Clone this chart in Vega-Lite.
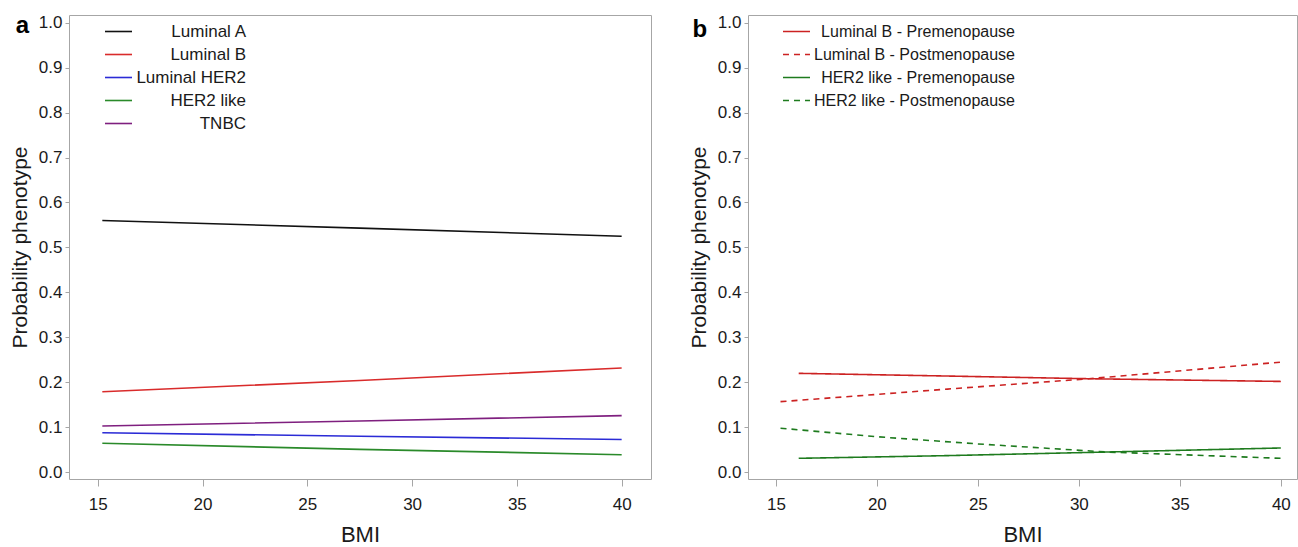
{
  "$schema": "https://vega.github.io/schema/vega-lite/v6.json",
  "background": "white",
  "padding": {"left": 8, "top": 13, "right": 0, "bottom": 0},
  "autosize": {"type": "pad"},
  "spacing": 97,
  "bounds": "flush",
  "resolve": {
    "scale": {"color": "independent", "strokeDash": "independent", "x": "independent", "y": "independent"},
    "legend": {"color": "independent", "strokeDash": "independent"}
  },
  "config": {
    "view": {"stroke": "#a6a6a6", "strokeWidth": 1},
    "axis": {
      "grid": false,
      "domain": false,
      "tickColor": "#a6a6a6",
      "labelFont": "Liberation Sans Narrow, Arial Narrow, Liberation Sans, sans-serif",
      "labelFontSize": 17,
      "labelColor": "#1a1a1a",
      "titleFontWeight": "normal",
      "titleColor": "#1a1a1a"
    },
    "axisX": {"tickSize": 7, "labelPadding": 10, "titleFont": "Liberation Sans Narrow, Arial Narrow, Liberation Sans, sans-serif", "titleFontSize": 22, "titlePadding": 12},
    "axisY": {"tickSize": 4, "labelPadding": 3, "titleFont": "Liberation Sans, Arial, sans-serif", "titleFontSize": 21, "titlePadding": 8},
    "legend": {
      "orient": "none",
      "title": null,
      "padding": 0,
      "symbolType": "stroke",
      "symbolStrokeWidth": 1.6,
      "labelAlign": "right",
      "labelFont": "Liberation Sans Narrow, Arial Narrow, Liberation Sans, sans-serif",
      "labelFontSize": 17,
      "labelColor": "#1a1a1a",
      "labelLimit": 400,
      "rowPadding": -3.5
    }
  },
  "hconcat": [
    {
      "width": 582,
      "height": 464,
      "layer": [
        {
          "data": {"values": [
            {"series": "Luminal A", "bmi": 15.22, "p": 0.560},
            {"series": "Luminal A", "bmi": 27.5, "p": 0.543},
            {"series": "Luminal A", "bmi": 40, "p": 0.525},
            {"series": "Luminal B", "bmi": 15.22, "p": 0.179},
            {"series": "Luminal B", "bmi": 27.5, "p": 0.204},
            {"series": "Luminal B", "bmi": 40, "p": 0.232},
            {"series": "Luminal HER2", "bmi": 15.22, "p": 0.088},
            {"series": "Luminal HER2", "bmi": 27.5, "p": 0.080},
            {"series": "Luminal HER2", "bmi": 40, "p": 0.073},
            {"series": "HER2 like", "bmi": 15.22, "p": 0.0645},
            {"series": "HER2 like", "bmi": 27.5, "p": 0.051},
            {"series": "HER2 like", "bmi": 40, "p": 0.039},
            {"series": "TNBC", "bmi": 15.22, "p": 0.103},
            {"series": "TNBC", "bmi": 27.5, "p": 0.114},
            {"series": "TNBC", "bmi": 40, "p": 0.126}
          ]},
          "mark": {"type": "line", "strokeWidth": 1.6},
          "encoding": {
            "x": {"field": "bmi", "type": "quantitative", "scale": {"domain": [13.63, 41.4], "nice": false, "zero": false}, "axis": {"values": [15, 20, 25, 30, 35, 40], "title": "BMI"}},
            "y": {"field": "p", "type": "quantitative", "scale": {"domain": [-0.015, 1.017], "nice": false, "zero": false}, "axis": {"values": [0, 0.1, 0.2, 0.3, 0.4, 0.5, 0.6, 0.7, 0.8, 0.9, 1.0], "format": ".1f", "title": "Probability phenotype"}},
            "color": {
              "field": "series", "type": "nominal",
              "scale": {"domain": ["Luminal A", "Luminal B", "Luminal HER2", "HER2 like", "TNBC"], "range": ["#111111", "#d92b2b", "#2b2bd6", "#2a8a2a", "#7f1f7f"]},
              "legend": {"legendX": 35, "legendY": 2, "symbolSize": 729, "labelOffset": 113}
            }
          }
        },
        {
          "data": {"values": [{"bmi": 11.41, "p": 0.978, "lab": "a"}]},
          "mark": {"type": "text", "font": "Liberation Sans, Arial, sans-serif", "fontWeight": "bold", "fontSize": 24, "align": "center", "baseline": "alphabetic", "color": "black"},
          "encoding": {
            "x": {"field": "bmi", "type": "quantitative"},
            "y": {"field": "p", "type": "quantitative"},
            "text": {"field": "lab"}
          }
        }
      ]
    },
    {
      "width": 549,
      "height": 464,
      "layer": [
        {
          "data": {"values": [
            {"series": "Luminal B - Premenopause", "bmi": 16.13, "p": 0.220},
            {"series": "Luminal B - Premenopause", "bmi": 23.5, "p": 0.214},
            {"series": "Luminal B - Premenopause", "bmi": 30.5, "p": 0.208},
            {"series": "Luminal B - Premenopause", "bmi": 40, "p": 0.202},
            {"series": "Luminal B - Postmenopause", "bmi": 15.23, "p": 0.157},
            {"series": "Luminal B - Postmenopause", "bmi": 23.5, "p": 0.185},
            {"series": "Luminal B - Postmenopause", "bmi": 30.5, "p": 0.208},
            {"series": "Luminal B - Postmenopause", "bmi": 40, "p": 0.245},
            {"series": "HER2 like - Premenopause", "bmi": 16.13, "p": 0.031},
            {"series": "HER2 like - Premenopause", "bmi": 23.5, "p": 0.037},
            {"series": "HER2 like - Premenopause", "bmi": 31.4, "p": 0.045},
            {"series": "HER2 like - Premenopause", "bmi": 40, "p": 0.054},
            {"series": "HER2 like - Postmenopause", "bmi": 15.23, "p": 0.098},
            {"series": "HER2 like - Postmenopause", "bmi": 20, "p": 0.079},
            {"series": "HER2 like - Postmenopause", "bmi": 25, "p": 0.063},
            {"series": "HER2 like - Postmenopause", "bmi": 31.4, "p": 0.045},
            {"series": "HER2 like - Postmenopause", "bmi": 40, "p": 0.031}
          ]},
          "mark": {"type": "line", "strokeWidth": 1.6},
          "encoding": {
            "x": {"field": "bmi", "type": "quantitative", "scale": {"domain": [13.62, 40.8], "nice": false, "zero": false}, "axis": {"values": [15, 20, 25, 30, 35, 40], "title": "BMI"}},
            "y": {"field": "p", "type": "quantitative", "scale": {"domain": [-0.015, 1.017], "nice": false, "zero": false}, "axis": {"values": [0, 0.1, 0.2, 0.3, 0.4, 0.5, 0.6, 0.7, 0.8, 0.9, 1.0], "format": ".1f", "title": "Probability phenotype"}},
            "color": {
              "field": "series", "type": "nominal",
              "scale": {"domain": ["Luminal B - Premenopause", "Luminal B - Postmenopause", "HER2 like - Premenopause", "HER2 like - Postmenopause"], "range": ["#cc2222", "#cc2222", "#1e7b1e", "#1e7b1e"]},
              "legend": {"legendX": 34, "legendY": 2, "symbolSize": 729, "labelOffset": 204, "labelFontSize": 16}
            },
            "strokeDash": {
              "field": "series", "type": "nominal",
              "scale": {"domain": ["Luminal B - Premenopause", "Luminal B - Postmenopause", "HER2 like - Premenopause", "HER2 like - Postmenopause"], "range": [[1, 0], [6, 5], [1, 0], [6, 5]]},
              "legend": {"legendX": 34, "legendY": 2, "symbolSize": 729, "labelOffset": 204, "labelFontSize": 16}
            }
          }
        },
        {
          "data": {"values": [{"bmi": 11.23, "p": 0.969, "lab": "b"}]},
          "mark": {"type": "text", "font": "Liberation Sans, Arial, sans-serif", "fontWeight": "bold", "fontSize": 24, "align": "center", "baseline": "alphabetic", "color": "black"},
          "encoding": {
            "x": {"field": "bmi", "type": "quantitative"},
            "y": {"field": "p", "type": "quantitative"},
            "text": {"field": "lab"}
          }
        }
      ]
    }
  ]
}
